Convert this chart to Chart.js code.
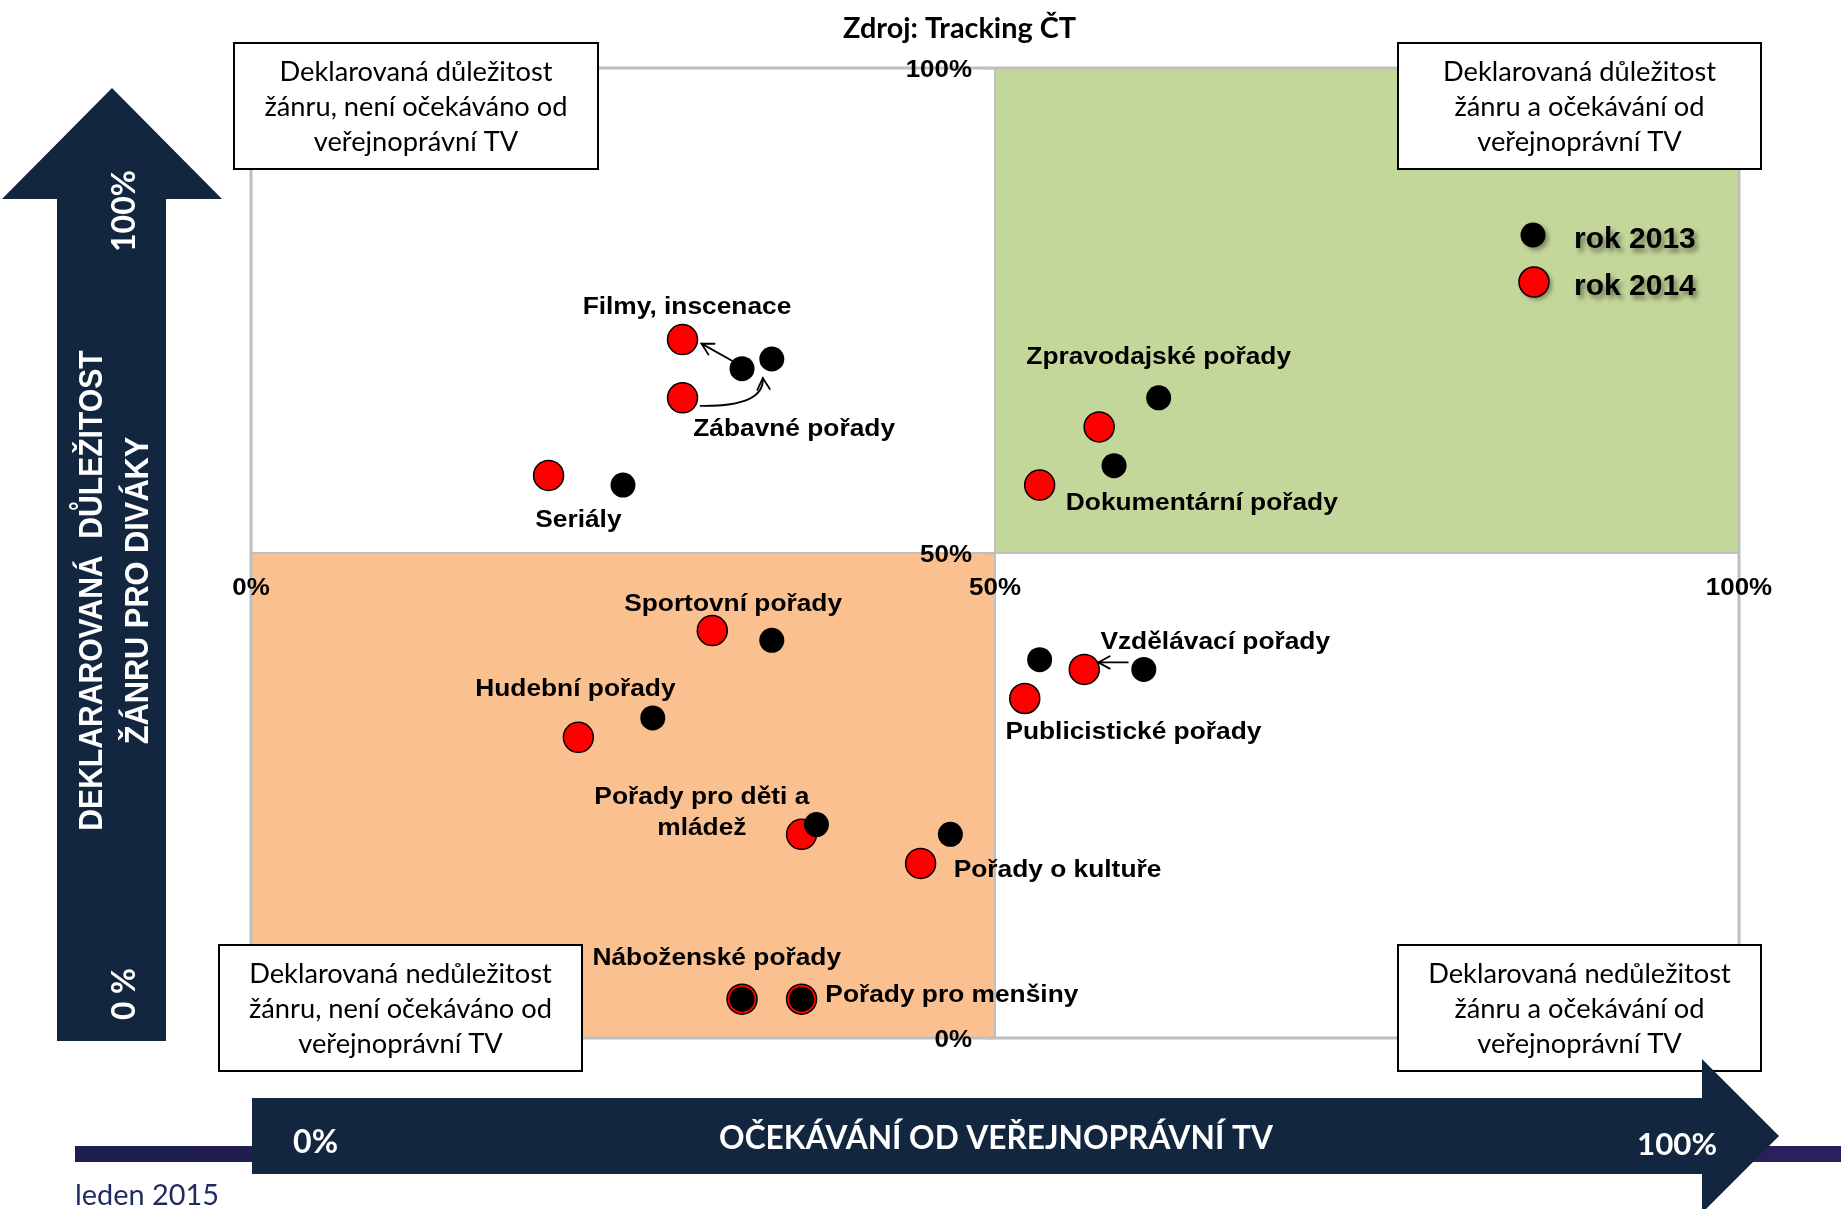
<!DOCTYPE html>
<html><head><meta charset="utf-8">
<script src="https://cdn.jsdelivr.net/npm/chart.js@4.4.1/dist/chart.umd.min.js"></script>
<style>html,body{margin:0;padding:0;background:#fff;overflow:hidden}#wrap{width:1841px;height:1209px;position:relative}</style>
</head><body><div id="wrap"><canvas id="c" width="1841" height="1209"></canvas></div>
<script>
// ---------- DATA ----------
const categories = ['Filmy, inscenace','Zábavné pořady','Seriály','Zpravodajské pořady','Dokumentární pořady','Sportovní pořady','Hudební pořady','Pořady pro děti a\nmládež','Pořady o kultuře','Náboženské pořady','Pořady pro menšiny','Vzdělávací pořady','Publicistické pořady'];
const expectation2013 = [33, 35, 25, 61, 58, 35, 27, 38, 47, 33, 37, 60, 53];
const importance2013  = [69, 70, 57, 66, 59, 41, 33, 22, 21,  4,  4, 38, 39];
const expectation2014 = [29, 29, 20, 57, 53, 31, 22, 37, 45, 33, 37, 56, 52];
const importance2014  = [72, 66, 58, 63, 57, 42, 31, 21, 18,  4,  4, 38, 35];
const seriesNames = ['rok 2013', 'rok 2014'];
const axisTicks = [0, 50, 100];
const tickLabels = ['0%', '50%', '100%'];

// label anchors (axis units: centre x, baseline y)
const labelPos = [[29.3,74.6],[36.5,62.1],[22.0,52.7],[61.0,69.5],[63.9,54.4],[32.4,44.0],[21.8,35.3],[30.3,24.1],[54.2,16.6],[31.3,7.5],[47.1,3.7],[64.8,40.1],[59.3,30.8]];

const toPts = (xs, ys) => xs.map((v, i) => ({x: v, y: ys[i]}));

const ARIAL = '"Liberation Sans", Arial, sans-serif';
const CAL = 'Lato, "Open Sans", sans-serif';
const NAVY = '#132640';

function fitFont(ctx, s, width, weight, family) {
  ctx.save(); ctx.font = weight + ' 100px ' + family;
  const w = ctx.measureText(s).width; ctx.restore();
  return weight + ' ' + (100 * width / w).toFixed(2) + 'px ' + family;
}
function drawText(ctx, s, x, y, o) {
  ctx.save();
  ctx.font = o.font; ctx.fillStyle = o.color || '#000';
  ctx.textAlign = o.align || 'center'; ctx.textBaseline = 'alphabetic';
  if (o.shadow) { ctx.shadowColor = 'rgba(0,0,0,0.45)'; ctx.shadowOffsetX = 3; ctx.shadowOffsetY = 4; ctx.shadowBlur = 5; }
  ctx.translate(x, y);
  if (o.rot) ctx.rotate(o.rot);
  if (o.sx) ctx.scale(o.sx, 1);
  ctx.fillText(s, 0, 0);
  ctx.restore();
}
function arrowHead(ctx, tx, ty, ang, len) {
  ctx.beginPath();
  ctx.moveTo(tx + len * Math.cos(ang + 0.5), ty + len * Math.sin(ang + 0.5));
  ctx.lineTo(tx, ty);
  ctx.lineTo(tx + len * Math.cos(ang - 0.5), ty + len * Math.sin(ang - 0.5));
  ctx.stroke();
}

const background = {
  id: 'background',
  beforeDraw(chart) {
    const {ctx, scales: {x, y}} = chart;
    const x0 = x.getPixelForValue(axisTicks[0]), xm = x.getPixelForValue(axisTicks[1]), x1 = x.getPixelForValue(axisTicks[2]);
    const y0 = y.getPixelForValue(axisTicks[0]), ym = y.getPixelForValue(axisTicks[1]), y1 = y.getPixelForValue(axisTicks[2]);
    ctx.save();
    ctx.fillStyle = '#fff'; ctx.fillRect(0, 0, chart.width, chart.height);
    ctx.fillStyle = '#C4D79B'; ctx.fillRect(xm, y1, x1 - xm, ym - y1);
    ctx.fillStyle = '#FAC090'; ctx.fillRect(x0, ym, xm - x0, y0 - ym);
    ctx.strokeStyle = '#BFBFBF'; ctx.lineWidth = 3; ctx.strokeRect(x0, y1, x1 - x0, y0 - y1);
    ctx.restore();
  }
};

const decor = {
  id: 'decor',
  afterDraw(chart) {
    const {ctx, scales: {x, y}} = chart;
    const ax = x.getPixelForValue(axisTicks[1]), ay = y.getPixelForValue(axisTicks[1]);
    const tickFont = 'bold 24px ' + ARIAL;
    // axis tick labels
    axisTicks.forEach((v, i) => {
      drawText(ctx, tickLabels[i], x.getPixelForValue(v), ay + 42, {font: tickFont, sx: 1.08});
      drawText(ctx, tickLabels[i], ax - 23, y.getPixelForValue(v) + 8.5, {font: tickFont, sx: 1.08, align: 'right'});
    });
    // category labels
    const labFont = 'bold 23.5px ' + ARIAL;
    categories.forEach((c, i) => {
      const px = x.getPixelForValue(labelPos[i][0]), py = y.getPixelForValue(labelPos[i][1]);
      c.split('\n').forEach((ln, k) => drawText(ctx, ln, px, py + k * 30.7, {font: labFont, sx: 1.12}));
    });
    // connector arrows
    ctx.save();
    ctx.strokeStyle = '#000'; ctx.lineWidth = 1.8; ctx.lineCap = 'round';
    const P = (xs, ys, i) => [x.getPixelForValue(xs[i]), y.getPixelForValue(ys[i])];
    // Filmy
    let a = P(expectation2013, importance2013, 0), b = P(expectation2014, importance2014, 0);
    let s = [a[0] - 10, a[1] - 8], e = [b[0] + 19, b[1] + 4];
    ctx.beginPath(); ctx.moveTo(s[0], s[1]); ctx.lineTo(e[0], e[1]); ctx.stroke();
    arrowHead(ctx, e[0], e[1], Math.atan2(s[1] - e[1], s[0] - e[0]), 13);
    // Zábavné
    a = P(expectation2014, importance2014, 1); b = P(expectation2013, importance2013, 1);
    s = [a[0] + 18, a[1] + 8]; e = [b[0] - 9, b[1] + 19];
    const cp = [e[0] + 2, s[1] + 1];
    ctx.beginPath(); ctx.moveTo(s[0], s[1]); ctx.quadraticCurveTo(cp[0], cp[1], e[0], e[1]); ctx.stroke();
    arrowHead(ctx, e[0], e[1], Math.atan2(cp[1] - e[1], cp[0] - e[0]), 13);
    // Vzdělávací
    a = P(expectation2013, importance2013, 11); b = P(expectation2014, importance2014, 11);
    s = [a[0] - 16, a[1] - 7]; e = [b[0] + 14, b[1] - 7];
    ctx.beginPath(); ctx.moveTo(s[0], s[1]); ctx.lineTo(e[0], e[1]); ctx.stroke();
    arrowHead(ctx, e[0], e[1], 0, 13);
    ctx.restore();
    // legend
    ctx.save();
    ctx.shadowColor = 'rgba(0,0,0,0.35)'; ctx.shadowOffsetX = 3; ctx.shadowOffsetY = 3; ctx.shadowBlur = 4;
    ctx.fillStyle = '#000'; ctx.beginPath(); ctx.arc(1533, 235, 12.5, 0, Math.PI * 2); ctx.fill();
    ctx.fillStyle = '#FF0000'; ctx.beginPath(); ctx.arc(1534, 282, 15, 0, Math.PI * 2); ctx.fill();
    ctx.shadowColor = 'transparent'; ctx.lineWidth = 1.5; ctx.strokeStyle = '#000'; ctx.stroke();
    ctx.restore();
    drawText(ctx, seriesNames[0], 1574, 248, {font: 'bold 30px ' + ARIAL, align: 'left', shadow: true});
    drawText(ctx, seriesNames[1], 1574, 295, {font: 'bold 30px ' + ARIAL, align: 'left', shadow: true});
    // source
    drawText(ctx, 'Zdroj: Tracking ČT', 959.5, 38, {font: fitFont(ctx, 'Zdroj: Tracking ČT', 233, 'bold', CAL)});
    // boxes
    const boxFont = fitFont(ctx, 'žánru, není očekáváno od', 303, 'normal', CAL);
    const boxes = [
      [234, 43, 364, 126, ['Deklarovaná důležitost', 'žánru, není očekáváno od', 'veřejnoprávní TV'], 81],
      [1398, 43, 363, 126, ['Deklarovaná důležitost', 'žánru a očekávání od', 'veřejnoprávní TV'], 81],
      [219, 945, 363, 126, ['Deklarovaná nedůležitost', 'žánru, není očekáváno od', 'veřejnoprávní TV'], 983],
      [1398, 945, 363, 126, ['Deklarovaná nedůležitost', 'žánru a očekávání od', 'veřejnoprávní TV'], 983]
    ];
    boxes.forEach(bx => {
      ctx.save(); ctx.fillStyle = '#fff'; ctx.fillRect(bx[0], bx[1], bx[2], bx[3]);
      ctx.strokeStyle = '#000'; ctx.lineWidth = 2; ctx.strokeRect(bx[0], bx[1], bx[2], bx[3]); ctx.restore();
      bx[4].forEach((ln, k) => drawText(ctx, ln, bx[0] + bx[2] / 2, bx[5] + k * 35, {font: boxFont}));
    });
    // bottom thin bar
    ctx.save();
    const g = ctx.createLinearGradient(75, 0, 1841, 0);
    g.addColorStop(0, '#1e1e4e'); g.addColorStop(1, '#2c1f5e');
    ctx.fillStyle = g; ctx.fillRect(75, 1146, 1766, 16);
    // arrows
    ctx.fillStyle = NAVY;
    ctx.beginPath();
    ctx.moveTo(57, 1041); ctx.lineTo(57, 199); ctx.lineTo(2, 199); ctx.lineTo(112, 88); ctx.lineTo(222, 199); ctx.lineTo(166, 199); ctx.lineTo(166, 1041); ctx.closePath(); ctx.fill();
    ctx.beginPath();
    ctx.moveTo(252, 1098); ctx.lineTo(1702, 1098); ctx.lineTo(1702, 1059); ctx.lineTo(1779, 1136); ctx.lineTo(1702, 1213); ctx.lineTo(1702, 1174); ctx.lineTo(252, 1174); ctx.closePath(); ctx.fill();
    ctx.restore();
    // arrow texts
    const R = -Math.PI / 2;
    drawText(ctx, 'DEKLARAROVANÁ  DŮLEŽITOST', 102, 590.5, {font: 'bold 34px ' + ARIAL, rot: R, sx: 0.885, color: '#fff'});
    drawText(ctx, 'ŽÁNRU PRO DIVÁKY', 148, 590.5, {font: 'bold 34px ' + ARIAL, rot: R, sx: 0.905, color: '#fff'});
    drawText(ctx, '100%', 135, 211, {font: fitFont(ctx, '100%', 82, 'bold', CAL), rot: R, color: '#fff'});
    drawText(ctx, '0 %', 135, 994, {font: fitFont(ctx, '0 %', 52, 'bold', CAL), rot: R, color: '#fff'});
    drawText(ctx, '0%', 315.5, 1153, {font: fitFont(ctx, '0%', 45, 'bold', CAL), color: '#fff'});
    drawText(ctx, 'OČEKÁVÁNÍ OD VEŘEJNOPRÁVNÍ TV', 996, 1149, {font: fitFont(ctx, 'OČEKÁVÁNÍ OD VEŘEJNOPRÁVNÍ TV', 554, 'bold', CAL), color: '#fff'});
    drawText(ctx, '100%', 1677, 1155, {font: fitFont(ctx, '100%', 80, 'bold', CAL), color: '#fff'});
    drawText(ctx, 'leden 2015', 75, 1205, {font: fitFont(ctx, 'leden 2015', 144, 'normal', CAL), color: '#1f2b5e', align: 'left'});
  }
};

new Chart(document.getElementById('c'), {
  type: 'scatter',
  data: {
    datasets: [
      {label: seriesNames[0], data: toPts(expectation2013, importance2013), backgroundColor: '#000', borderColor: '#000', borderWidth: 0, pointRadius: 12.5, pointHoverRadius: 12.5},
      {label: seriesNames[1], data: toPts(expectation2014, importance2014), backgroundColor: '#FF0000', borderColor: '#000', borderWidth: 1.5, pointRadius: 15, pointHoverRadius: 15}
    ]
  },
  options: {
    responsive: false, animation: false, devicePixelRatio: 1,
    layout: {padding: {left: 251, top: 68, right: 102, bottom: 171}},
    plugins: {legend: {display: false}, tooltip: {enabled: false}},
    scales: {
      x: {type: 'linear', min: 0, max: 100, position: {y: 50},
          ticks: {display: false, stepSize: 50},
          grid: {display: true, drawOnChartArea: false, drawTicks: false},
          border: {display: true, color: '#BFBFBF', width: 2}},
      y: {type: 'linear', min: 0, max: 100, position: {x: 50},
          ticks: {display: false, stepSize: 50},
          grid: {display: true, drawOnChartArea: false, drawTicks: true, tickLength: 8, color: '#BFBFBF', tickWidth: 2},
          border: {display: true, color: '#BFBFBF', width: 2}}
    }
  },
  plugins: [background, decor]
});
</script></body></html>
